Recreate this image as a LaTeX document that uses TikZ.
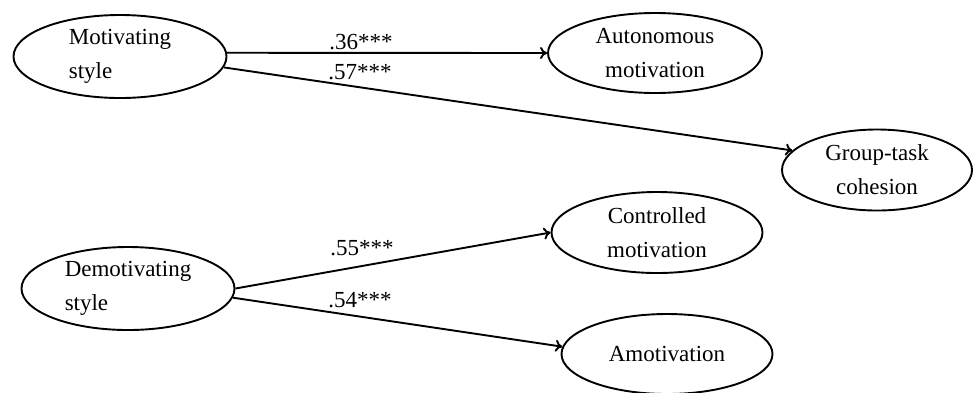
\documentclass[tikz,border=0pt]{standalone}
\usepackage{fontspec}
\setmainfont{Liberation Serif}
\usetikzlibrary{shapes.geometric,arrows.meta}

\begin{document}
\begin{tikzpicture}[x=1pt,y=-1pt,>={To[length=7pt,width=12pt]},
  latent/.style={ellipse,draw,line width=1.9pt,inner sep=0pt,align=center,
    font=\fontsize{23}{34}\selectfont},
  coef/.style={inner sep=0pt,font=\fontsize{23}{34}\selectfont},
  effect/.style={line width=1.9pt,->}]
\useasboundingbox (0,0) rectangle (973,392);

% styles
\node[latent,align=left,minimum width=213,minimum height=83] (mot) at (120,56.5) {Motivating\\style};
\node[latent,align=left,minimum width=213,minimum height=83] (demot) at (128,288.5) {Demotivating\\style};

% outcomes
\node[latent,minimum width=214,minimum height=80] (aut) at (655,53) {Autonomous\\motivation};
\node[latent,minimum width=190,minimum height=81] (grp) at (877,170) {Group-task\\cohesion};
\node[latent,minimum width=211,minimum height=81] (ctrl) at (657,232.5) {Controlled\\motivation};
\node[latent,minimum width=211,minimum height=80] (amot) at (667,354) {Amotivation};

\draw[effect] (mot.2) -- (aut.west);
\draw[effect] (mot.-6) -- (grp.167);
\draw[effect] (demot.east) -- (ctrl.west);
\draw[effect] (demot.-5) -- (amot.176);

    \node[coef] (c36) at (361,42) {.36***};
    \node[coef] (c57) at (360,72) {.57***};
    \node[coef] (c55) at (362,248) {.55***};
    \node[coef] (c54) at (360,300) {.54***};

\end{tikzpicture}
\end{document}
